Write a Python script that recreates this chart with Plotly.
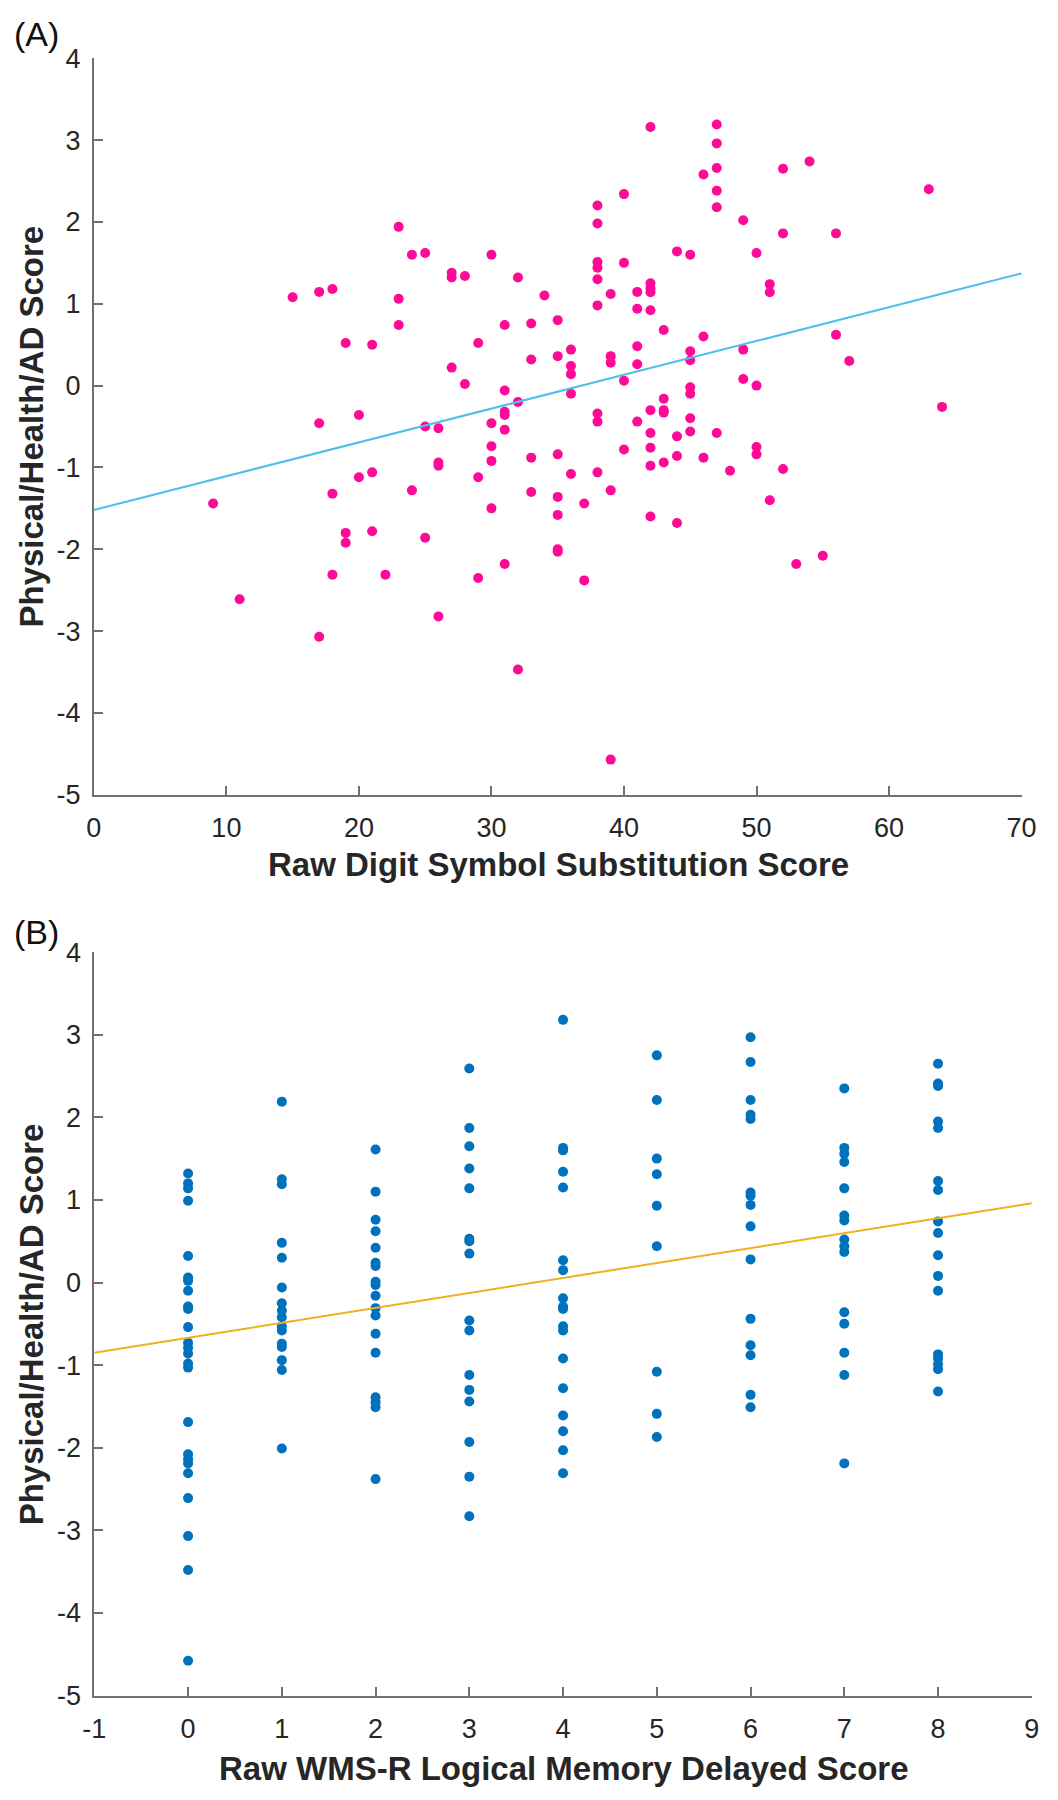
import plotly.graph_objects as go

# ---------------- Panel A data: Raw Digit Symbol Substitution vs composite ----------------
dsst_x = [9, 11, 15,
          17, 17, 17, 18, 18, 18, 19, 19, 19, 20, 20, 21, 21, 21, 22,
          23, 23, 23, 24, 24, 25, 25, 25, 26, 26, 26, 26, 27, 27, 27, 28, 28,
          29, 29, 29, 30, 30, 30, 30, 30, 31, 31, 31, 31, 31, 31, 32, 32, 32,
          33, 33, 33, 33, 34, 35, 35, 35, 35, 35, 35, 35,
          36, 36, 36, 36, 36, 37, 37,
          38, 38, 38, 38, 38, 38, 38, 38, 38,
          39, 39, 39, 39, 39, 40, 40, 40, 40, 41, 41, 41, 41, 41,
          42, 42, 42, 42, 42, 42, 42, 42, 42, 42,
          43, 43, 43, 43, 43, 44, 44, 44, 44,
          45, 45, 45, 45, 45, 45, 45, 46, 46, 46,
          47, 47, 47, 47, 47, 47, 48, 49, 49, 49, 50, 50, 50, 50,
          51, 51, 51, 52, 52, 52, 53, 54, 55, 56, 56, 57, 63, 64]
dsst_y = [-1.44, -2.61, 1.08,
          1.145, -0.46, -3.07, 1.18, -1.32, -2.31, 0.52, -1.80, -1.92, -0.36, -1.12, 0.50, -1.06, -1.78, -2.31,
          1.94, 1.06, 0.74, 1.60, -1.28, 1.62, -0.50, -1.86, -0.52, -0.94, -0.98, -2.82, 1.38, 1.32, 0.22, 1.34, 0.02,
          0.52, -1.12, -2.35, 1.60, -0.46, -0.74, -0.92, -1.50, 0.74, -0.06, -0.32, -0.36, -0.54, -2.18, 1.32, -0.20, -3.47,
          0.76, 0.32, -0.88, -1.30, 1.10, 0.80, 0.36, -0.84, -1.36, -1.58, -2.00, -2.03,
          0.44, 0.24, 0.14, -0.10, -1.08, -1.44, -2.38,
          2.20, 1.98, 1.51, 1.44, 1.30, 0.98, -0.34, -0.44, -1.06,
          1.12, 0.36, 0.28, -1.28, -4.57, 2.34, 1.50, 0.06, -0.78, 1.145, 0.94, 0.48, 0.26, -0.44,
          3.16, 1.25, 1.19, 1.14, 0.92, -0.30, -0.58, -0.76, -0.98, -1.60,
          0.68, -0.16, -0.30, -0.33, -0.94, 1.64, -0.62, -0.86, -1.68,
          1.60, 0.42, 0.31, -0.02, -0.10, -0.40, -0.56, 2.58, 0.60, -0.88,
          3.19, 2.96, 2.66, 2.38, 2.18, -0.58, -1.04, 2.02, 0.44, 0.08, 1.62, 0.00, -0.75, -0.84,
          1.24, 1.14, -1.40, 2.65, 1.86, -1.02, -2.18, 2.74, -2.08, 1.86, 0.62, 0.30, 2.40, -0.26]
# least-squares line: intercept, slope
fit_a = (-1.52, 0.0413)

# ---------------- Panel B data: Raw WMS-R Logical Memory Delayed vs composite ----------------
lm_x = ([0] * 25 + [1] * 16 + [2] * 18 + [3] * 16 + [4] * 18 +
        [5] * 9 + [6] * 15 + [7] * 15 + [8] * 17)
lm_y = [1.32, 1.20, 1.14, 0.99, 0.32, 0.06, 0.02, -0.10, -0.29, -0.32, -0.54, -0.73, -0.79,
        -0.86, -0.98, -1.03, -1.69, -2.08, -2.14, -2.19, -2.31, -2.61, -3.07, -3.48, -4.58,
        2.19, 1.25, 1.19, 0.48, 0.30, -0.06, -0.25, -0.34, -0.42, -0.53, -0.58, -0.74, -0.78,
        -0.94, -1.06, -2.01,
        1.61, 1.10, 0.76, 0.62, 0.42, 0.24, 0.20, 0.01, -0.03, -0.16, -0.31, -0.40, -0.62,
        -0.85, -1.39, -1.45, -1.51, -2.38,
        2.59, 1.87, 1.65, 1.38, 1.14, 0.53, 0.50, 0.35, -0.46, -0.58, -1.12, -1.30, -1.44,
        -1.93, -2.35, -2.83,
        3.18, 1.63, 1.60, 1.34, 1.15, 0.27, 0.15, -0.19, -0.29, -0.32, -0.53, -0.58, -0.92,
        -1.28, -1.61, -1.80, -2.03, -2.31,
        2.75, 2.21, 1.50, 1.31, 0.93, 0.44, -1.08, -1.59, -1.87,
        2.97, 2.67, 2.21, 2.03, 1.98, 1.09, 1.05, 0.94, 0.68, 0.28, -0.44, -0.76, -0.88,
        -1.36, -1.51,
        2.35, 1.63, 1.56, 1.46, 1.14, 0.81, 0.75, 0.52, 0.44, 0.37, -0.36, -0.50, -0.85,
        -1.12, -2.19,
        2.65, 2.41, 2.38, 1.95, 1.87, 1.23, 1.12, 0.74, 0.60, 0.33, 0.08, -0.10, -0.87,
        -0.92, -0.99, -1.05, -1.32]
fit_b = (-0.669, 0.181)

# ---------------- axes / tick definitions ----------------
xrange_a = [0, 70]
xticks_a = [0, 10, 20, 30, 40, 50, 60, 70]
xrange_b = [-1, 9]
xticks_b = [-1, 0, 1, 2, 3, 4, 5, 6, 7, 8, 9]
yrange = [-5, 4]
yticks = [-5, -4, -3, -2, -1, 0, 1, 2, 3, 4]

xtitle_a = "Raw Digit Symbol Substitution Score"
xtitle_b = "Raw WMS-R Logical Memory Delayed Score"
ytitle = "Physical/Health/AD Score"
panel_labels = ["(A)", "(B)"]

# ---------------- figure ----------------
W, H = 1058, 1800
FONT = "Liberation Sans, Arial, Helvetica, sans-serif"
AX_COL = "#707070"
TXT_COL = "#262626"


def px_x(p):
    return p / W


def px_y(p):
    return 1 - p / H


fig = go.Figure()

fig.add_trace(go.Scatter(x=dsst_x, y=dsst_y, mode="markers",
                         marker=dict(color="#FF0A96", size=10, line=dict(width=0)),
                         xaxis="x", yaxis="y", showlegend=False))
la = [xrange_a[0], xrange_a[1]]
fig.add_trace(go.Scatter(x=la, y=[fit_a[0] + fit_a[1] * v for v in la], mode="lines",
                         line=dict(color="#4DBEEE", width=2),
                         xaxis="x", yaxis="y", showlegend=False))

fig.add_trace(go.Scatter(x=lm_x, y=lm_y, mode="markers",
                         marker=dict(color="#0072BD", size=10, line=dict(width=0)),
                         xaxis="x2", yaxis="y2", showlegend=False))
lb = [xrange_b[0], xrange_b[1]]
fig.add_trace(go.Scatter(x=lb, y=[fit_b[0] + fit_b[1] * v for v in lb], mode="lines",
                         line=dict(color="#EDB120", width=2),
                         xaxis="x2", yaxis="y2", showlegend=False))

axis_common = dict(showline=True, linecolor=AX_COL, linewidth=2, mirror=False,
                   ticks="inside", ticklen=9, tickwidth=2, tickcolor=AX_COL,
                   showgrid=False, zeroline=False, fixedrange=True,
                   tickfont=dict(family=FONT, size=27, color=TXT_COL))


def labels(vals):
    return [str(v) for v in vals]


fig.update_layout(
    width=W, height=H,
    margin=dict(l=0, r=0, t=0, b=0),
    paper_bgcolor="white", plot_bgcolor="white",
    hovermode=False,
    xaxis=dict(domain=[px_x(84), px_x(1036)], range=xrange_a, anchor="y",
               tickvals=xticks_a, ticktext=labels(xticks_a), ticklabelstandoff=8,
               **axis_common),
    yaxis=dict(domain=[px_y(793), px_y(44)], range=yrange, anchor="x",
               tickvals=yticks, ticktext=labels(yticks), ticklabelstandoff=6,
               **axis_common),
    xaxis2=dict(domain=[px_x(84.5), px_x(1046.5)], range=xrange_b, anchor="y2",
                tickvals=xticks_b, ticktext=labels(xticks_b), ticklabelstandoff=8,
                **axis_common),
    yaxis2=dict(domain=[px_y(1709), px_y(953)], range=yrange, anchor="x2",
                tickvals=yticks, ticktext=labels(yticks), ticklabelstandoff=6,
                **axis_common),
)

ann = []
title_font = dict(family=FONT, size=33, color=TXT_COL)
ann.append(dict(text="<b>%s</b>" % xtitle_a, x=px_x(561), y=px_y(864),
                xanchor="center", yanchor="middle", font=title_font))
ann.append(dict(text="<b>%s</b>" % xtitle_b, x=px_x(566), y=px_y(1783),
                xanchor="center", yanchor="middle", font=title_font))
ann.append(dict(text="<b>%s</b>" % ytitle, x=px_x(20), y=px_y(418), textangle=-90,
                xanchor="center", yanchor="middle", font=title_font))
ann.append(dict(text="<b>%s</b>" % ytitle, x=px_x(20), y=px_y(1331), textangle=-90,
                xanchor="center", yanchor="middle", font=title_font))
label_font = dict(family=FONT, size=34, color="#111111")
ann.append(dict(text=panel_labels[0], x=px_x(0), y=px_y(19),
                xanchor="left", yanchor="middle", font=label_font))
ann.append(dict(text=panel_labels[1], x=px_x(0), y=px_y(933),
                xanchor="left", yanchor="middle", font=label_font))
for a in ann:
    a.update(xref="paper", yref="paper", showarrow=False)
fig.update_layout(annotations=ann)

fig.write_html("out.html", config={"displayModeBar": False, "staticPlot": True},
               post_script="document.body.style.margin='0px';document.body.style.overflow='hidden';")
